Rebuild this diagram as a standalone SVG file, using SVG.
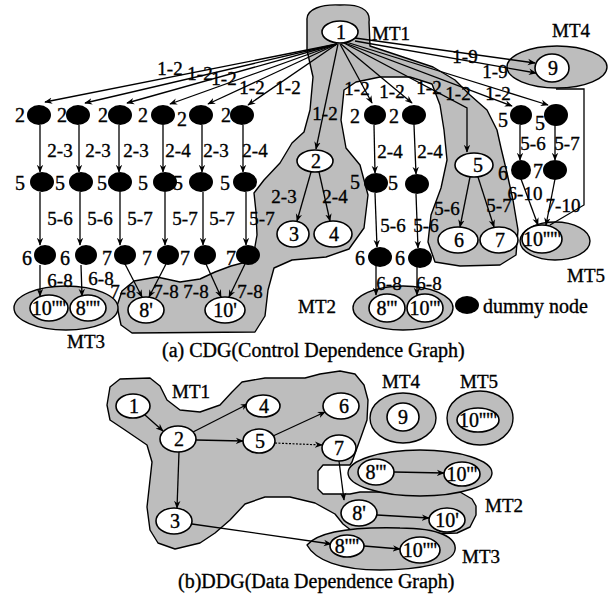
<svg xmlns="http://www.w3.org/2000/svg" width="610" height="597" viewBox="0 0 610 597">
<defs>
<marker id="ah" viewBox="0 0 10 10" refX="9" refY="5" markerWidth="8" markerHeight="8" orient="auto" markerUnits="userSpaceOnUse"><path d="M0,1 L10,5 L0,9 L3,5 z" fill="#000"/></marker>
<style>
.shade{fill:#bdbdbd;stroke:#000;stroke-width:1.4;stroke-linejoin:round}
.node{fill:#fff;stroke:#000;stroke-width:1.6}
.dot{fill:#000}
.e{stroke:#000;stroke-width:1.3;fill:none;marker-end:url(#ah)}
.ln{stroke:#000;stroke-width:1.3;fill:none}
.dt{stroke:#000;stroke-width:1.2;fill:none;stroke-dasharray:2 1.5;marker-end:url(#ah)}
text{font-family:"Liberation Serif","Times New Roman",serif;fill:#000;stroke:#000;stroke-width:0.35}
.lb{font-size:19px;text-anchor:middle}
.nt{font-size:20px;text-anchor:middle}
.mt{font-size:19px}
.cap{font-size:20px}
</style>
</defs>
<rect width="610" height="597" fill="#fff"/>

<g id="regions">
<path class="shade" d="M307,20 C306,9 322,4 340,5 C358,4 371,9 369,22 L370,46 L400,56 L433,67 L455,80 L470,95 L487,110 L497,130 L501,148 L507,173 L513,200 L518,230 L516,255 L500,265 L460,266 L435,262 L428,242 L431,215 L441,188 L447,160 L444,130 L440,105 L432,84 L410,77 L380,77 L356,82 L344,90 L341,120 L346,148 L360,165 L368,195 L364,228 L349,249 L326,257 L292,260 L274,268 L268,290 L265,316 L255,332 L132,333 L121,325 L117,306 L122,291 L134,281 L157,277 L180,282 L200,279 L215,272 L231,266 L246,262 L254,252 L257,235 L256,212 L254,193 L264,180 L280,163 L292,143 L304,132 L310,110 L313,77 L307,50 Z"/>
<ellipse class="shade" cx="557" cy="67" rx="50" ry="21"/>
<ellipse class="shade" cx="555" cy="241" rx="35" ry="19"/>
<ellipse class="shade" cx="403" cy="308" rx="50" ry="22"/>
<ellipse class="shade" cx="66" cy="308" rx="52" ry="22"/>

<path class="shade" d="M110,387 L120,379 L150,378 L160,386 L167,400 L180,410 L200,412 L220,405 L232,392 L242,382 L265,378 L290,378 L305,378 L320,374 L340,371 L355,374 L364,385 L368,400 L367,420 L361,437 L357,448 L352,462 L350,465 L323,465 L318,471 L318,489 L323,494 L350,494 L360,492 L460,492 L472,499 L476,506 L476,515 L470,527 L457,533 L430,534 L380,534 L352,531 L343,524 L335,514 L315,503 L290,497 L265,497 L245,504 L230,520 L215,533 L200,543 L175,549 L158,543 L150,530 L147,507 L150,480 L152,462 L147,445 L125,430 L110,420 L107,405 Z"/>
<ellipse class="shade" cx="420" cy="473" rx="72" ry="23"/>
<path class="shade" d="M307,545 C320,530 360,527 400,528 C440,528 457,538 455,550 C453,563 420,570 380,570 C340,570 315,560 307,545 Z"/>
<ellipse class="shade" cx="403" cy="418" rx="33" ry="25"/>
<ellipse class="shade" cx="480" cy="418" rx="33" ry="27"/>
</g>

<g id="connectors">
<line class="e" x1="337" y1="44" x2="45" y2="102"/>
<line class="e" x1="337" y1="44" x2="85" y2="103"/>
<line class="e" x1="337" y1="44" x2="127" y2="103"/>
<line class="e" x1="337" y1="44" x2="170" y2="104"/>
<line class="e" x1="337" y1="44" x2="208" y2="104"/>
<line class="e" x1="337" y1="44" x2="248" y2="105"/>
<line class="e" x1="338" y1="44" x2="316" y2="149"/>
<line class="e" x1="340" y1="44" x2="372" y2="103"/>
<line class="e" x1="341" y1="44" x2="412" y2="103"/>
<polyline class="e" points="344,43 467,108 467,152"/>
<line class="e" x1="345" y1="43" x2="512" y2="106"/>
<line class="e" x1="346" y1="42" x2="548" y2="105"/>
<line class="e" x1="355" y1="38" x2="535" y2="63"/>
<line class="e" x1="355" y1="41" x2="536" y2="73"/>
<polyline class="ln" points="556,89 584,89 584,205 550,225"/>

<line class="e" x1="40" y1="125" x2="40" y2="172"/>
<line class="e" x1="79" y1="125" x2="79" y2="172"/>
<line class="e" x1="119" y1="125" x2="119" y2="172"/>
<line class="e" x1="163" y1="125" x2="163" y2="172"/>
<line class="e" x1="202" y1="125" x2="202" y2="172"/>
<line class="e" x1="243" y1="125" x2="243" y2="172"/>
<line class="e" x1="40" y1="192" x2="40" y2="245"/>
<line class="e" x1="80" y1="192" x2="80" y2="245"/>
<line class="e" x1="120" y1="192" x2="120" y2="245"/>
<line class="e" x1="165" y1="192" x2="165" y2="245"/>
<line class="e" x1="203" y1="192" x2="203" y2="245"/>
<line class="e" x1="246" y1="192" x2="246" y2="245"/>
<line class="e" x1="40" y1="265" x2="40" y2="296"/>
<line class="e" x1="81" y1="265" x2="82" y2="296"/>
<line class="e" x1="125" y1="264" x2="142" y2="297"/>
<line class="e" x1="166" y1="264" x2="149" y2="297"/>
<line class="e" x1="206" y1="264" x2="221" y2="297"/>
<line class="e" x1="245" y1="264" x2="229" y2="297"/>
<line class="e" x1="311" y1="172" x2="297" y2="221"/>
<line class="e" x1="319" y1="172" x2="330" y2="221"/>
<line class="e" x1="374" y1="125" x2="375" y2="173"/>
<line class="e" x1="414" y1="125" x2="416" y2="174"/>
<line class="e" x1="375" y1="193" x2="377" y2="247"/>
<line class="e" x1="416" y1="194" x2="418" y2="248"/>
<line class="e" x1="376" y1="266" x2="376" y2="295"/>
<line class="e" x1="417" y1="267" x2="417" y2="295"/>
<line class="e" x1="470" y1="177" x2="460" y2="227"/>
<line class="e" x1="478" y1="177" x2="494" y2="227"/>
<line class="e" x1="520" y1="125" x2="520" y2="160"/>
<line class="e" x1="555" y1="125" x2="555" y2="160"/>
<line class="e" x1="521" y1="179" x2="538" y2="225"/>
<line class="e" x1="555" y1="179" x2="546" y2="225"/>

<line class="e" x1="145" y1="415" x2="163" y2="431"/>
<line class="e" x1="193" y1="432" x2="248" y2="404"/>
<line class="e" x1="196" y1="440" x2="243" y2="441" stroke-width="0.8"/>
<line class="e" x1="179" y1="452" x2="177" y2="508"/>
<line class="e" x1="273" y1="436" x2="325" y2="412"/>
<line class="dt" x1="275" y1="443" x2="322" y2="445"/>
<line class="e" x1="339" y1="461" x2="344" y2="500"/>
<line class="e" x1="192" y1="524" x2="331" y2="544"/>
<line class="e" x1="394" y1="472" x2="444" y2="473"/>
<line class="e" x1="377" y1="515" x2="429" y2="518"/>
<line class="e" x1="364" y1="546" x2="400" y2="549"/>

<g id="edge-labels">
<text class="lb" x="170" y="75">1-2</text>
<text class="lb" x="200" y="80">1-2</text>
<text class="lb" x="224" y="85">1-2</text>
<text class="lb" x="252" y="94">1-2</text>
<text class="lb" x="288" y="94">1-2</text>
<text class="lb" x="325" y="120">1-2</text>
<text class="lb" x="357" y="95">1-2</text>
<text class="lb" x="392" y="98">1-2</text>
<text class="lb" x="429" y="94">1-2</text>
<text class="lb" x="458" y="100">1-2</text>
<text class="lb" x="498" y="100">1-2</text>
<text class="lb" x="465" y="63">1-9</text>
<text class="lb" x="495" y="78">1-9</text>
<text class="lb" x="60" y="157">2-3</text>
<text class="lb" x="98" y="157">2-3</text>
<text class="lb" x="136" y="157">2-3</text>
<text class="lb" x="178" y="157">2-4</text>
<text class="lb" x="216" y="157">2-3</text>
<text class="lb" x="255" y="157">2-4</text>
<text class="lb" x="390" y="158">2-4</text>
<text class="lb" x="430" y="158">2-4</text>
<text class="lb" x="60" y="225">5-6</text>
<text class="lb" x="100" y="225">5-6</text>
<text class="lb" x="140" y="225">5-7</text>
<text class="lb" x="185" y="225">5-7</text>
<text class="lb" x="222" y="225">5-7</text>
<text class="lb" x="262" y="225">5-7</text>
<text class="lb" x="393" y="232">5-6</text>
<text class="lb" x="426" y="232">5-6</text>
<text class="lb" x="533" y="150">5-6</text>
<text class="lb" x="567" y="150">5-7</text>
<text class="lb" x="525" y="200">6-10</text>
<text class="lb" x="563" y="212">7-10</text>
<text class="lb" x="60" y="287">6-8</text>
<text class="lb" x="101" y="285">6-8</text>
<text class="lb" x="123" y="298">7-8</text>
<text class="lb" x="166" y="298">7-8</text>
<text class="lb" x="196" y="298">7-8</text>
<text class="lb" x="250" y="298">7-8</text>
<text class="lb" x="389" y="290">6-8</text>
<text class="lb" x="429" y="290">6-8</text>
<text class="lb" x="284" y="203">2-3</text>
<text class="lb" x="335" y="203">2-4</text>
<text class="lb" x="447" y="215">5-6</text>
<text class="lb" x="499" y="212">5-7</text>
</g>
</g>

<g id="dummy-nodes">
<ellipse class="dot" cx="39" cy="115" rx="12" ry="10"/><ellipse class="dot" cx="78" cy="115" rx="12" ry="10"/><ellipse class="dot" cx="120" cy="115" rx="12" ry="10"/><ellipse class="dot" cx="163" cy="115" rx="12" ry="10"/><ellipse class="dot" cx="201" cy="115" rx="12" ry="10"/><ellipse class="dot" cx="242" cy="115" rx="12" ry="10"/>
<ellipse class="dot" cx="42" cy="182" rx="12" ry="10"/><ellipse class="dot" cx="81" cy="182" rx="12" ry="10"/><ellipse class="dot" cx="120" cy="182" rx="12" ry="10"/><ellipse class="dot" cx="165" cy="182" rx="12" ry="10"/><ellipse class="dot" cx="201" cy="182" rx="12" ry="10"/><ellipse class="dot" cx="245" cy="182" rx="12" ry="10"/>
<ellipse class="dot" cx="45" cy="255" rx="11" ry="10"/><ellipse class="dot" cx="86" cy="255" rx="11" ry="10"/><ellipse class="dot" cx="125" cy="255" rx="11" ry="10"/><ellipse class="dot" cx="168" cy="255" rx="11" ry="10"/><ellipse class="dot" cx="205" cy="255" rx="11" ry="10"/><ellipse class="dot" cx="248" cy="255" rx="12" ry="10"/>
<ellipse class="dot" cx="375" cy="115" rx="11" ry="10"/><ellipse class="dot" cx="414" cy="115" rx="12" ry="10"/>
<ellipse class="dot" cx="376" cy="183" rx="12" ry="10"/><ellipse class="dot" cx="417" cy="184" rx="12" ry="10"/>
<ellipse class="dot" cx="380" cy="257" rx="12" ry="10"/><ellipse class="dot" cx="420" cy="258" rx="12" ry="10"/>
<ellipse class="dot" cx="521" cy="115" rx="11" ry="10"/><ellipse class="dot" cx="556" cy="115" rx="12" ry="11"/>
<ellipse class="dot" cx="521" cy="170" rx="10" ry="10"/><ellipse class="dot" cx="555" cy="170" rx="12" ry="10"/>
<g class="nt">
<text x="20" y="122">2</text><text x="62" y="122">2</text><text x="103" y="122">2</text><text x="143" y="122">2</text><text x="182" y="126">2</text><text x="226" y="122">2</text><text x="355" y="123">2</text><text x="394" y="123">2</text>
<text x="20" y="190">5</text><text x="60" y="190">5</text><text x="102" y="190">5</text><text x="143" y="190">5</text><text x="178" y="190">5</text><text x="225" y="190">5</text><text x="355" y="189">5</text><text x="393" y="190">5</text>
<text x="27" y="265">6</text><text x="65" y="265">6</text><text x="107" y="265">7</text><text x="147" y="265">7</text><text x="185" y="265">7</text><text x="231" y="265">7</text><text x="360" y="265">6</text><text x="400" y="265">6</text>
<text x="503" y="127">5</text><text x="540" y="130">5</text><text x="503" y="180">6</text><text x="538" y="178">7</text>
</g>
</g>

<g id="node-1"><ellipse class="node" cx="340" cy="32" rx="18" ry="11"/><text class="nt" x="341" y="39">1</text></g>
<g id="node-2"><ellipse class="node" cx="315" cy="161" rx="18" ry="11"/><text class="nt" x="316" y="168">2</text></g>
<g id="node-3"><ellipse class="node" cx="293" cy="234" rx="16" ry="13"/><text class="nt" x="294" y="241">3</text></g>
<g id="node-4"><ellipse class="node" cx="333" cy="234" rx="19" ry="13"/><text class="nt" x="334" y="241">4</text></g>
<g id="node-5"><ellipse class="node" cx="474" cy="165" rx="19" ry="12"/><text class="nt" x="478" y="172">5</text></g>
<g id="node-6"><ellipse class="node" cx="458" cy="240" rx="20" ry="13"/><text class="nt" x="459" y="247">6</text></g>
<g id="node-7"><ellipse class="node" cx="499" cy="240" rx="19" ry="13"/><text class="nt" x="500" y="247">7</text></g>
<g id="node-9"><ellipse class="node" cx="552" cy="68" rx="17" ry="14"/><text class="nt" x="553" y="75">9</text></g>
<g id="node-10q5"><ellipse class="node" cx="542" cy="239" rx="20" ry="14"/><text class="nt" x="542" y="246">10'''''</text></g>
<g id="node-8q3"><ellipse class="node" cx="387" cy="308" rx="18" ry="14"/><text class="nt" x="387" y="315">8'''</text></g>
<g id="node-10q3"><ellipse class="node" cx="425" cy="308" rx="18" ry="14"/><text class="nt" x="425" y="315">10'''</text></g>
<g id="node-10q4"><ellipse class="node" cx="49" cy="308" rx="19" ry="13"/><text class="nt" x="49" y="315">10''''</text></g>
<g id="node-8q4"><ellipse class="node" cx="88" cy="308" rx="18" ry="13"/><text class="nt" x="88" y="315">8''''</text></g>
<g id="node-8q1"><ellipse class="node" cx="146" cy="310" rx="18" ry="13"/><text class="nt" x="146" y="317">8'</text></g>
<g id="node-10q1"><ellipse class="node" cx="225" cy="310" rx="20" ry="13"/><text class="nt" x="225" y="317">10'</text></g>

<g id="legend"><ellipse class="dot" cx="467" cy="305" rx="12" ry="9"/><text class="cap" x="483" y="313">dummy node</text></g>

<g id="labels-a">
<text class="mt" x="372" y="40">MT1</text>
<text class="mt" x="552" y="37">MT4</text>
<text class="mt" x="567" y="282">MT5</text>
<text class="mt" x="298" y="313">MT2</text>
<text class="mt" x="67" y="348">MT3</text>
<text class="cap" x="162" y="357">(a) CDG(Control Dependence Graph)</text>
</g>

<g id="b-node-1"><ellipse class="node" cx="133" cy="406" rx="17" ry="12"/><text class="nt" x="134" y="413">1</text></g>
<g id="b-node-2"><ellipse class="node" cx="178" cy="439" rx="18" ry="13"/><text class="nt" x="179" y="446">2</text></g>
<g id="b-node-4"><ellipse class="node" cx="263" cy="406" rx="17" ry="11"/><text class="nt" x="264" y="413">4</text></g>
<g id="b-node-5"><ellipse class="node" cx="259" cy="441" rx="16" ry="12"/><text class="nt" x="260" y="448">5</text></g>
<g id="b-node-3"><ellipse class="node" cx="174" cy="521" rx="18" ry="13"/><text class="nt" x="175" y="528">3</text></g>
<g id="b-node-6"><ellipse class="node" cx="341" cy="406" rx="18" ry="13"/><text class="nt" x="344" y="413">6</text></g>
<g id="b-node-7"><ellipse class="node" cx="339" cy="448" rx="17" ry="13"/><text class="nt" x="339" y="455">7</text></g>
<g id="b-node-8q1"><ellipse class="node" cx="359" cy="513" rx="18" ry="13"/><text class="nt" x="359" y="520">8'</text></g>
<g id="b-node-10q1"><ellipse class="node" cx="447" cy="520" rx="18" ry="12"/><text class="nt" x="447" y="527">10'</text></g>
<g id="b-node-8q4"><ellipse class="node" cx="347" cy="546" rx="17" ry="11"/><text class="nt" x="347" y="553">8''''</text></g>
<g id="b-node-10q4"><ellipse class="node" cx="420" cy="550" rx="20" ry="13"/><text class="nt" x="420" y="557">10''''</text></g>
<g id="b-node-8q3"><ellipse class="node" cx="376" cy="472" rx="18" ry="13"/><text class="nt" x="376" y="479">8'''</text></g>
<g id="b-node-10q3"><ellipse class="node" cx="462" cy="474" rx="18" ry="12"/><text class="nt" x="462" y="481">10'''</text></g>
<g id="b-node-9"><ellipse class="node" cx="403" cy="417" rx="16" ry="14"/><text class="nt" x="403" y="424">9</text></g>
<g id="b-node-10q5"><ellipse class="node" cx="478" cy="420" rx="21" ry="12"/><text class="nt" x="478" y="427">10'''''</text></g>

<g id="labels-b">
<text class="mt" x="172" y="398">MT1</text>
<text class="mt" x="382" y="388">MT4</text>
<text class="mt" x="460" y="388">MT5</text>
<text class="mt" x="485" y="512">MT2</text>
<text class="mt" x="462" y="563">MT3</text>
<text class="cap" x="178" y="588">(b)DDG(Data Dependence Graph)</text>
</g>
</svg>
